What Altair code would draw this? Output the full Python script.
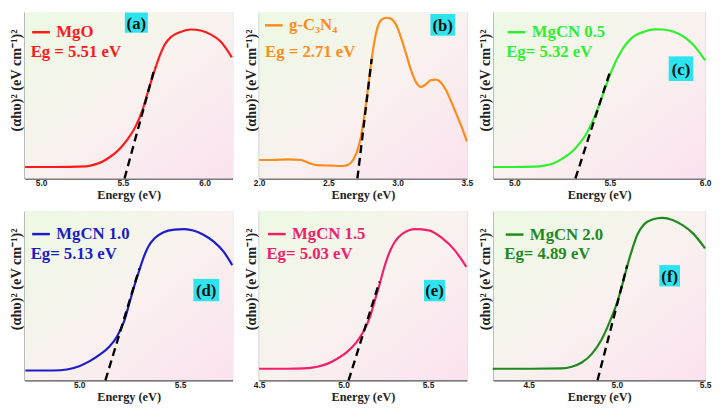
import altair as alt
import pandas as pd

# ---------------- data ----------------
names = ["MgO", "g-C₃N₄", "MgCN 0.5", "MgCN 1.0", "MgCN 1.5", "MgCN 2.0"]
colors = ["#ff1a1a", "#ff8c1a", "#2ef02e", "#1c1cc8", "#f2206a", "#1e8a1e"]
eg_values = [5.51, 2.71, 5.32, 5.13, 5.03, 4.89]
eg_labels = ["Eg = 5.51 eV", "Eg = 2.71 eV", "Eg= 5.32 eV", "Eg= 5.13 eV", "Eg= 5.03 eV", "Eg= 4.89 eV"]
letters = ["(a)", "(b)", "(c)", "(d)", "(e)", "(f)"]
x_domains = [[4.9, 6.17], [2.0, 3.5], [4.89, 6.0], [4.73, 5.76], [4.5, 5.73], [4.3, 5.5]]
x_ticks = [[5.0, 5.5, 6.0], [2.0, 2.5, 3.0, 3.5], [5.0, 5.5, 6.0], [5.0, 5.5], [4.5, 5.0, 5.5], [4.5, 5.0, 5.5]]

a_energy = [4.902, 5.076, 5.276, 5.336, 5.376, 5.416, 5.456, 5.496, 5.536, 5.576, 5.616, 5.656, 5.696, 5.726, 5.756, 5.796, 5.856, 5.916, 5.976, 6.036, 6.096, 6.166]
a_abs = [0.069, 0.069, 0.073, 0.086, 0.102, 0.126, 0.155, 0.195, 0.245, 0.310, 0.400, 0.530, 0.655, 0.740, 0.805, 0.852, 0.882, 0.895, 0.889, 0.866, 0.824, 0.728]

b_energy = [2.000, 2.090, 2.209, 2.303, 2.363, 2.422, 2.517, 2.600, 2.647, 2.682, 2.711, 2.730, 2.754, 2.777, 2.801, 2.813, 2.837, 2.860, 2.884, 2.919, 2.955, 2.991, 3.026, 3.062, 3.097, 3.133, 3.168, 3.204, 3.239, 3.275, 3.310, 3.346, 3.393, 3.441, 3.476, 3.500]
b_abs = [0.111, 0.111, 0.115, 0.111, 0.092, 0.080, 0.077, 0.075, 0.084, 0.115, 0.172, 0.230, 0.345, 0.479, 0.642, 0.718, 0.843, 0.920, 0.954, 0.966, 0.958, 0.920, 0.843, 0.747, 0.651, 0.579, 0.550, 0.565, 0.590, 0.594, 0.579, 0.536, 0.450, 0.354, 0.280, 0.222]

c_energy = [4.888, 4.986, 5.105, 5.156, 5.207, 5.258, 5.309, 5.343, 5.377, 5.411, 5.445, 5.479, 5.504, 5.530, 5.564, 5.598, 5.632, 5.683, 5.733, 5.784, 5.835, 5.886, 5.937, 6.000]
c_abs = [0.069, 0.069, 0.071, 0.077, 0.092, 0.124, 0.168, 0.212, 0.268, 0.345, 0.445, 0.553, 0.630, 0.700, 0.772, 0.825, 0.858, 0.883, 0.896, 0.895, 0.881, 0.853, 0.805, 0.709]

d_energy = [4.733, 4.874, 4.939, 5.003, 5.052, 5.100, 5.149, 5.189, 5.222, 5.246, 5.270, 5.298, 5.319, 5.343, 5.375, 5.416, 5.472, 5.521, 5.570, 5.618, 5.667, 5.715, 5.759]
d_abs = [0.058, 0.058, 0.064, 0.085, 0.113, 0.150, 0.198, 0.262, 0.346, 0.443, 0.544, 0.650, 0.725, 0.790, 0.840, 0.873, 0.890, 0.893, 0.883, 0.858, 0.819, 0.761, 0.680]

e_energy = [4.500, 4.669, 4.766, 4.844, 4.902, 4.960, 5.018, 5.077, 5.116, 5.158, 5.185, 5.213, 5.236, 5.261, 5.300, 5.349, 5.426, 5.504, 5.582, 5.659, 5.727]
e_abs = [0.068, 0.068, 0.070, 0.080, 0.097, 0.126, 0.165, 0.225, 0.285, 0.378, 0.470, 0.565, 0.650, 0.728, 0.812, 0.866, 0.893, 0.885, 0.841, 0.767, 0.670]

f_energy = [4.296, 4.458, 4.687, 4.744, 4.801, 4.858, 4.915, 4.963, 5.001, 5.030, 5.058, 5.087, 5.115, 5.153, 5.201, 5.258, 5.315, 5.372, 5.430, 5.500]
f_abs = [0.068, 0.068, 0.070, 0.080, 0.105, 0.156, 0.244, 0.355, 0.459, 0.561, 0.672, 0.775, 0.858, 0.920, 0.950, 0.959, 0.947, 0.916, 0.869, 0.779]

# upper end of the linear (Tauc) fit lines; lower end sits at Eg on the baseline
fit_top_energy = [5.696, 2.813, 5.504, 5.298, 5.213, 5.058]
fit_top_abs = [0.670, 0.718, 0.651, 0.660, 0.583, 0.678]

energies = [a_energy, b_energy, c_energy, d_energy, e_energy, f_energy]
absorb = [a_abs, b_abs, c_abs, d_abs, e_abs, f_abs]

# ---------------- layout / style ----------------
SERIF = "Liberation Serif"
SANS = "Liberation Sans"
widths = [211, 211, 215, 211, 211, 215]
heights = [169, 169, 169, 172, 172, 172]
legend_pos = [(6, 10), (4.5, 3), (13, 10), (6, 13), (7.5, 13), (11, 13.5)]
eg_pos = [(6, 45.5), (6, 45.5), (13, 45.5), (6, 49), (7.5, 49), (11, 49)]
boxes = [(101.7, 0.5, 125, 21), (174, 2, 199, 24), (178, 45, 203, 70),
         (171.3, 69, 197.3, 91.7), (167.5, 70, 189, 91.7), (168.5, 55, 189.5, 76.7)]
title_y = [69, 69, 69, 69, 69, 69]
CYAN = "#2de3ee"

grad = alt.LinearGradient(
    gradient="linear",
    stops=[alt.GradientStop(color="#ecfae3", offset=0),
           alt.GradientStop(color="#f9f2ef", offset=0.5),
           alt.GradientStop(color="#fbe2f0", offset=1)],
    x1=0, y1=0, x2=1, y2=1,
)

one = pd.DataFrame({"k": [0]})


def panel(i):
    w, h = widths[i], heights[i]
    col = colors[i]
    xs = alt.Scale(domain=x_domains[i], nice=False, zero=False)
    ys = alt.Scale(domain=[0, 1], nice=False, zero=True)
    xaxis = alt.Axis(values=x_ticks[i], format=".1f", title="Energy (eV)", labelFlush=False,
                     ticks=False, grid=False, labelPadding=0, labelFont=SANS, labelFontSize=8.5,
                     labelFontWeight="bold", labelColor="#222", titleFont=SERIF, titleFontSize=12.5,
                     titleFontWeight="bold", titleColor="#222", titlePadding=2,
                     domainColor="#555", domainWidth=1.5, labelOverlap=False)
    yaxis = alt.Axis(title="(αhυ)² (eV cm⁻¹)²", labels=False, ticks=False, grid=False,
                     domainColor="#555", domainWidth=1.5, titleFont=SERIF, titleFontSize=14.5,
                     titleFontWeight="bold", titleColor="#222", titlePadding=1, titleY=title_y[i])

    df = pd.DataFrame({"energy": energies[i], "abs": absorb[i], "sample": names[i]})
    fit = pd.DataFrame({"energy": [eg_values[i], fit_top_energy[i]], "abs": [0.0, fit_top_abs[i]]})

    bg = alt.Chart(one).mark_rect(fill=grad).encode(
        x=alt.value(0), x2=alt.value(w), y=alt.value(0), y2=alt.value(h))

    curve = alt.Chart(df).mark_line(strokeWidth=2.2, interpolate="monotone").encode(
        x=alt.X("energy:Q", scale=xs, axis=xaxis),
        y=alt.Y("abs:Q", scale=ys, axis=yaxis),
        color=alt.Color("sample:N", scale=alt.Scale(domain=[names[i]], range=[col]),
                        legend=alt.Legend(orient="none", legendX=legend_pos[i][0], legendY=legend_pos[i][1],
                                          title=None, symbolType="stroke", symbolSize=324,
                                          symbolStrokeWidth=2.5, labelOffset=5, labelFont=SERIF,
                                          labelFontSize=17, labelFontWeight="bold", labelColor=col,
                                          padding=0)),
    )

    dashed = alt.Chart(fit).mark_line(color="black", strokeWidth=2.4, strokeDash=[8, 5]).encode(
        x=alt.X("energy:Q", scale=xs), y=alt.Y("abs:Q", scale=ys))

    eg_txt = alt.Chart(one).mark_text(align="left", baseline="alphabetic", font=SERIF, fontSize=17,
                                      fontWeight="bold", color=col).encode(
        x=alt.value(eg_pos[i][0]), y=alt.value(eg_pos[i][1]), text=alt.value(eg_labels[i]))

    bx = boxes[i]
    box = alt.Chart(one).mark_rect(fill=CYAN).encode(
        x=alt.value(bx[0]), x2=alt.value(bx[2]), y=alt.value(bx[1]), y2=alt.value(bx[3]))
    letter = alt.Chart(one).mark_text(align="center", baseline="middle", font=SERIF, fontSize=17,
                                      fontWeight="bold", color="#111").encode(
        x=alt.value((bx[0] + bx[2]) / 2), y=alt.value((bx[1] + bx[3]) / 2 + 1), text=alt.value(letters[i]))

    return alt.layer(bg, curve, dashed, eg_txt, box, letter).properties(width=w, height=h)


chart = alt.concat(*[panel(i) for i in range(6)], columns=3,
                   spacing={"row": 33, "column": 27}, bounds="flush").resolve_scale(
    x="independent", y="independent", color="independent").resolve_legend(
    color="independent").properties(padding=0).configure_view(
    stroke="#8a8a8a", strokeWidth=1).configure(background="white")

chart.save("out.html", embed_options={"renderer": "svg", "actions": False})
